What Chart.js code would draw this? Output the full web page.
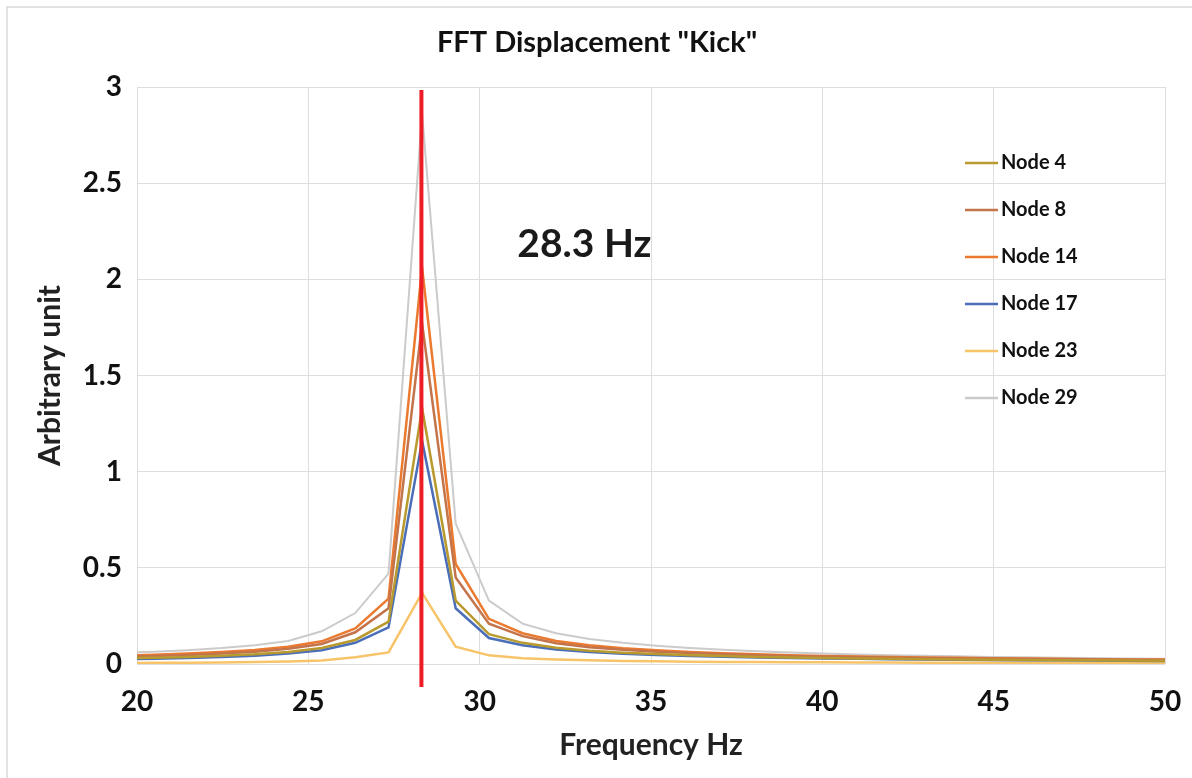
<!DOCTYPE html>
<html>
<head>
<meta charset="utf-8">
<title>FFT Displacement "Kick"</title>
<script src="https://cdn.jsdelivr.net/npm/chart.js@4/dist/chart.umd.min.js"></script>
<style>
  html, body { margin: 0; padding: 0; background: #fff; }
  #wrap { width: 1192px; height: 778px; }
</style>
</head>
<body>
<div id="wrap"><canvas id="fftChart" width="1192" height="778"></canvas></div>
<script>
// frequency bins (Hz)
const freqs = [19.53, 20.51, 21.48, 22.46, 23.44, 24.41, 25.39, 26.37, 27.34, 28.32,
  29.30, 30.27, 31.25, 32.23, 33.20, 34.18, 35.16, 36.13, 37.11, 38.09,
  39.06, 40.04, 41.02, 41.99, 42.97, 43.95, 44.92, 45.90, 46.88, 47.85,
  48.83, 49.80, 50.78];

// amplitude per node (arbitrary unit)
const node4 = [0.030, 0.033, 0.037, 0.043, 0.051, 0.063, 0.083, 0.125, 0.22, 1.33,
  0.33, 0.155, 0.11, 0.084, 0.069, 0.059, 0.052, 0.046, 0.041, 0.037,
  0.034, 0.031, 0.029, 0.027, 0.025, 0.024, 0.022, 0.021, 0.020, 0.019,
  0.018, 0.017, 0.017];
const node8 = [0.038, 0.042, 0.047, 0.054, 0.064, 0.079, 0.104, 0.165, 0.29, 1.77,
  0.45, 0.21, 0.145, 0.108, 0.087, 0.074, 0.064, 0.057, 0.051, 0.046,
  0.042, 0.039, 0.036, 0.033, 0.031, 0.029, 0.027, 0.026, 0.025, 0.023,
  0.022, 0.021, 0.020];
const node14 = [0.044, 0.048, 0.054, 0.062, 0.073, 0.090, 0.118, 0.185, 0.34, 2.06,
  0.52, 0.235, 0.16, 0.12, 0.097, 0.082, 0.071, 0.063, 0.056, 0.051,
  0.046, 0.042, 0.039, 0.036, 0.034, 0.032, 0.030, 0.028, 0.027, 0.025,
  0.024, 0.023, 0.022];
const node17 = [0.024, 0.027, 0.031, 0.036, 0.043, 0.054, 0.072, 0.110, 0.19, 1.16,
  0.29, 0.135, 0.097, 0.075, 0.062, 0.053, 0.047, 0.042, 0.038, 0.034,
  0.031, 0.029, 0.027, 0.025, 0.023, 0.022, 0.021, 0.020, 0.019, 0.018,
  0.017, 0.016, 0.016];
const node23 = [0.005, 0.006, 0.007, 0.008, 0.010, 0.013, 0.018, 0.035, 0.06, 0.37,
  0.09, 0.045, 0.030, 0.023, 0.019, 0.016, 0.014, 0.012, 0.011, 0.010,
  0.009, 0.009, 0.008, 0.008, 0.007, 0.007, 0.006, 0.006, 0.006, 0.005,
  0.005, 0.005, 0.005];
const node29 = [0.058, 0.064, 0.072, 0.083, 0.098, 0.120, 0.170, 0.265, 0.47, 2.86,
  0.73, 0.33, 0.21, 0.16, 0.13, 0.11, 0.095, 0.083, 0.074, 0.066,
  0.060, 0.055, 0.050, 0.046, 0.043, 0.040, 0.037, 0.035, 0.033, 0.031,
  0.029, 0.027, 0.026];

const seriesNames = ['Node 4', 'Node 8', 'Node 14', 'Node 17', 'Node 23', 'Node 29'];
const seriesValues = [node4, node8, node14, node17, node23, node29];
const seriesColors = ['#b89a2e', '#c4744a', '#ea7a30', '#4a6fb8', '#f8c46a', '#cbcbcb'];

// axis ticks
const xTicks = [20, 25, 30, 35, 40, 45, 50];
const yTicks = [0, 0.5, 1, 1.5, 2, 2.5, 3];

// resonance marker
const markerFreq = 28.3;
const markerText = '28.3 Hz';

const FONT = 'Lato, "Open Sans", sans-serif';

// build datasets as {x, y} pairs
const datasets = seriesNames.map((name, i) => ({
  label: name,
  data: freqs.map((f, j) => ({ x: f, y: seriesValues[i][j] })),
  borderColor: seriesColors[i],
  backgroundColor: seriesColors[i],
  borderWidth: i === 5 ? 2 : 2.5,
  pointRadius: 0,
  fill: false,
  tension: 0
}));

// draws title, legend, red marker line and its label
const decorPlugin = {
  id: 'decor',
  afterDraw(chart) {
    const ctx = chart.ctx;
    const xs = chart.scales.x;
    const ys = chart.scales.y;
    const area = chart.chartArea;
    ctx.save();

    // thin frame on top / left edge
    ctx.strokeStyle = '#d9d9d9';
    ctx.lineWidth = 1.5;
    ctx.beginPath();
    ctx.moveTo(7, 778);
    ctx.lineTo(7, 7);
    ctx.lineTo(1192, 7);
    ctx.stroke();

    // title
    ctx.fillStyle = '#111';
    ctx.font = 'bold 29px ' + FONT;
    ctx.textAlign = 'center';
    ctx.textBaseline = 'middle';
    ctx.fillText('FFT Displacement "Kick"', 597, 43);

    // red marker line
    const mx = xs.getPixelForValue(markerFreq);
    ctx.strokeStyle = '#ee1c25';
    ctx.lineWidth = 4;
    ctx.beginPath();
    ctx.moveTo(mx, ys.getPixelForValue(2.985));
    ctx.lineTo(mx, area.bottom + 23);
    ctx.stroke();

    // marker label
    ctx.fillStyle = '#1a1a1a';
    ctx.font = 'bold 39px ' + FONT;
    ctx.textAlign = 'left';
    ctx.fillText(markerText, xs.getPixelForValue(31.1), ys.getPixelForValue(2.18));

    // legend
    ctx.font = 'bold 20px ' + FONT;
    chart.data.datasets.forEach((ds, i) => {
      const y = 163 + i * 47;
      ctx.strokeStyle = ds.borderColor;
      ctx.lineWidth = 2.5;
      ctx.beginPath();
      ctx.moveTo(965, y);
      ctx.lineTo(998, y);
      ctx.stroke();
      ctx.fillStyle = '#111';
      ctx.fillText(ds.label, 1001, y);
    });

    ctx.restore();
  }
};

const ctx = document.getElementById('fftChart').getContext('2d');
new Chart(ctx, {
  type: 'line',
  data: { datasets },
  options: {
    responsive: false,
    animation: false,
    layout: { padding: { left: 0, right: 27, top: 87, bottom: 0 } },
    plugins: {
      legend: { display: false },
      title: { display: false },
      tooltip: { enabled: false }
    },
    scales: {
      x: {
        type: 'linear',
        min: 20,
        max: 50,
        afterBuildTicks: scale => { scale.ticks = xTicks.map(v => ({ value: v })); },
        afterFit: scale => { scale.height = 114; },
        grid: { color: '#dedede', lineWidth: 1, drawTicks: true, tickLength: 19, tickColor: 'rgba(0,0,0,0)' },
        border: { display: false },
        ticks: {
          color: '#111',
          padding: 2,
          font: { family: FONT, size: 28, weight: 'bold' }
        },
        title: {
          display: true,
          text: 'Frequency Hz',
          color: '#222',
          padding: { top: 0, bottom: 15 },
          font: { family: FONT, size: 30, weight: 'bold' }
        }
      },
      y: {
        min: 0,
        max: 3,
        afterBuildTicks: scale => { scale.ticks = yTicks.map(v => ({ value: v })); },
        afterFit: scale => { scale.width = 137; },
        grid: { color: '#dedede', lineWidth: 1, drawTicks: false },
        border: { display: false },
        ticks: {
          color: '#111',
          padding: 15,
          font: { family: FONT, size: 28, weight: 'bold' },
          callback: v => String(v)
        },
        title: {
          display: true,
          text: 'Arbitrary unit',
          color: '#222',
          padding: { top: 32, bottom: 0 },
          font: { family: FONT, size: 30, weight: 'bold' }
        }
      }
    }
  },
  plugins: [decorPlugin]
});
</script>
</body>
</html>
